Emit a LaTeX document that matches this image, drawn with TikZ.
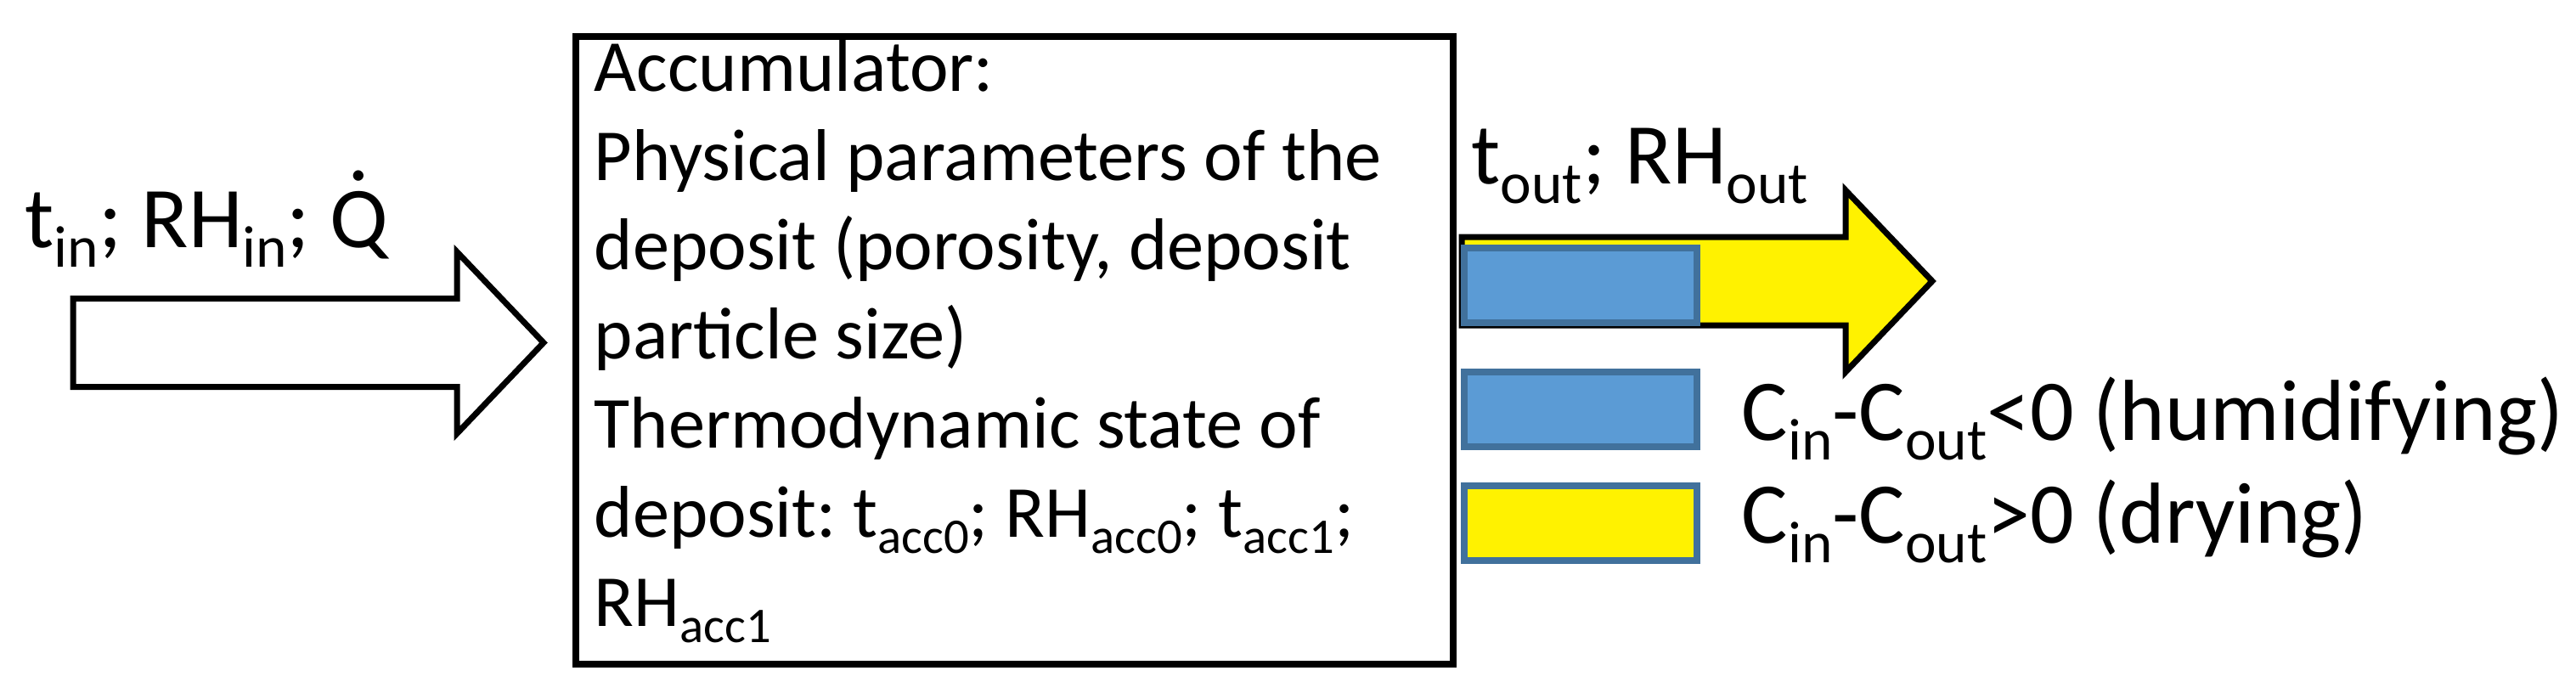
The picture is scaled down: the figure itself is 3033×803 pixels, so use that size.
\documentclass[tikz,border=0pt]{standalone}
\usepackage{fontspec}
\setmainfont{Carlito}
\frenchspacing
\definecolor{fillblue}{HTML}{5B9BD5}
\definecolor{edgeblue}{HTML}{41719C}
\newcommand\lo[1]{\raisebox{-0.23em}{\scalebox{0.68}{#1}}}
\newcommand\qdot{\ooalign{Q\cr\hidewidth\raisebox{0.77em}{.}\hidewidth\cr}}

\begin{document}
\begin{tikzpicture}[x=0.25pt,y=-0.25pt,
  blockarrow/.style={draw,line width=1.75pt,line join=miter},
  swatch/.style={draw=edgeblue,line width=2pt,minimum width=68.5pt,minimum height=22pt,inner sep=0pt},
  bigtext/.style={inner sep=0pt,font=\fontsize{25.5pt}{30pt}\selectfont},
  boxtext/.style={inner sep=0pt,align=left,font=\fontsize{21.6pt}{26.25pt}\selectfont}]
\useasboundingbox (0,0) rectangle (3033,803);

% The accumulator box
\node (acc) at (674,39) [draw,line width=2pt,minimum width=258.25pt,minimum height=184.75pt,anchor=north west]{};
\node (acctext) at (699,737) [boxtext,anchor=base west]{Accumulator:\\
  Physical parameters of the\\
  deposit (porosity, deposit\\
  particle size)\\
  Thermodynamic state of\\
  deposit: t\lo{acc0}; RH\lo{acc0}; t\lo{acc1};\\
  RH\lo{acc1}};

% inlet arrow
\coordinate (inarrow) at (86,351.5);
\draw[blockarrow,fill=white] (inarrow) -- ++(452,0) -- ++(0,-55) -- ++(102,107) -- ++(-102,107) -- ++(0,-55) -- ++(-452,0) -- cycle;
\node (inlabel) at (29,291) [bigtext,anchor=base west]{t\lo{in}; RH\lo{in}; \qdot};

% outlet arrow
\coordinate (outarrow) at (1721,279);
\draw[blockarrow,fill=yellow] (outarrow) -- ++(452,0) -- ++(0,-55) -- ++(102,107) -- ++(-102,107) -- ++(0,-55) -- ++(-452,0) -- cycle;
\node (outlabel) at (1732,216) [bigtext,anchor=base west]{t\lo{out}; RH\lo{out}};
\node (flowswatch) at (1861,335.5) [swatch,fill=fillblue]{};

% legend
\node (wetswatch) at (1861,482) [swatch,fill=fillblue]{};
\node (wetlabel) at (2050,518) [bigtext,anchor=base west]{C\lo{in}-C\lo{out}<0 (humidifying)};
\node (dryswatch) at (1861,616) [swatch,fill=yellow]{};
\node (drylabel) at (2050,639) [bigtext,anchor=base west]{C\lo{in}-C\lo{out}>0 (drying)};

\end{tikzpicture}
\end{document}
